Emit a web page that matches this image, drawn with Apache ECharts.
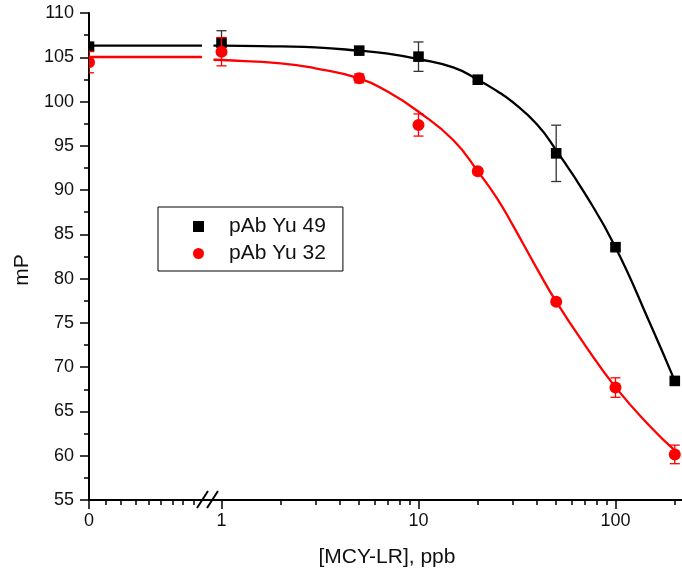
<!DOCTYPE html>
<html>
<head>
<meta charset="utf-8">
<script src="https://cdn.jsdelivr.net/npm/echarts@6/dist/echarts.min.js"></script>
<style>
html,body{margin:0;padding:0;background:#fff;}
#chart{width:682px;height:576px;}
</style>
</head>
<body>
<div id="chart"></div>
<script>
// ---- data ----
const xValues = [0, 1, 5, 10, 20, 50, 100, 200];
const yu49 = [106.2, 106.65, 105.75, 105.07, 102.47, 94.15, 83.55, 68.45];
const yu49Err = [0.3, 1.35, 0.3, 1.66, 0.2, 3.18, 0.3, 0.3];
const yu32 = [104.45, 105.63, 102.62, 97.35, 92.12, 77.4, 67.7, 60.15];
const yu32Err = [1.2, 1.6, 0.5, 1.25, 0.3, 0.3, 1.1, 1.05];

// fitted curves
const fitX = [0.91, 1, 2, 3, 5, 7, 10, 15, 20, 25, 30, 40, 50, 70, 100, 150, 200];
const fit49 = [106.31, 106.31, 106.22, 106.12, 105.74, 105.4, 104.8, 103.85, 102.47, 101.2, 99.95, 97.4, 94.5, 89.6, 83.55, 74.9, 68.45];
const fit32 = [104.72, 104.69, 104.32, 103.75, 102.62, 101.1, 98.85, 95.65, 92.12, 89.1, 86.1, 81.1, 77.4, 72.5, 67.75, 63.3, 60.6];
const fitLeftX = [0, 0.974];
const fit49Left = [106.31, 106.31];
const fit32Left = [105.03, 105.03];

// axis ticks
const yTickMin = 55, yTickMax = 110, yTickStep = 5;
const leftTickLabels = [0];
const leftMinorTicks = [0.148, 0.275, 0.404, 0.518, 0.62, 0.72, 0.812, 0.905];
const logTickLabels = [1, 10, 100];
const logMinorTicks = [2, 3, 4, 5, 6, 7, 8, 9, 20, 30, 40, 50, 60, 70, 80, 90, 200];

const names = ['pAb Yu 49', 'pAb Yu 32'];
const FONT = 'Liberation Sans, Arial, sans-serif';

function pairs(xs, ys) { return xs.map((x, i) => [x, ys[i]]); }
function pts(ys, es, left) {
  const out = [];
  xValues.forEach((x, i) => {
    if ((x === 0) === left) out.push([x, ys[i], es[i]]);
  });
  return out;
}

function makeRender(kind, color, barColor) {
  return function (params, api) {
    const x = api.value(0), y = api.value(1), e = api.value(2);
    const c = api.coord([x, y]);
    const t = api.coord([x, y + e]);
    const b = api.coord([x, y - e]);
    const cap = 5;
    const ls = { stroke: barColor, lineWidth: 1.3 };
    const children = [
      { type: 'line', shape: { x1: c[0], y1: t[1], x2: c[0], y2: b[1] }, style: ls },
      { type: 'line', shape: { x1: c[0] - cap, y1: t[1], x2: c[0] + cap, y2: t[1] }, style: ls },
      { type: 'line', shape: { x1: c[0] - cap, y1: b[1], x2: c[0] + cap, y2: b[1] }, style: ls }
    ];
    if (kind === 'square') {
      children.push({ type: 'rect', shape: { x: c[0] - 5.3, y: c[1] - 5.3, width: 10.6, height: 10.6 }, style: { fill: color } });
    } else {
      children.push({ type: 'circle', shape: { cx: c[0], cy: c[1], r: 6 }, style: { fill: color } });
    }
    const cs = params.coordSys;
    return {
      type: 'group',
      children: children,
      clipPath: { type: 'rect', shape: { x: cs.x, y: cs.y - 20, width: cs.width + 20, height: cs.height + 40 } }
    };
  };
}

const chart = echarts.init(document.getElementById('chart'), null, { renderer: 'canvas' });

const axisLineStyle = { color: '#000', width: 2 };
const labelStyle = { color: '#111', fontSize: 18, fontFamily: FONT };

const option = {
  animation: false,
  backgroundColor: '#fff',
  grid: [
    { left: 89, top: 13, width: 116, height: 487 },
    { left: 205, top: 13, right: 0, height: 487 }
  ],
  xAxis: [
    {
      type: 'value', gridIndex: 0, position: 'bottom', min: 0, max: 1,
      axisLine: { show: true, lineStyle: axisLineStyle },
      axisTick: { show: true, length: 9, customValues: leftTickLabels, lineStyle: { width: 1.5, color: '#000' } },
      axisLabel: { customValues: leftTickLabels, margin: 12, ...labelStyle, formatter: v => String(v) },
      splitLine: { show: false }
    },
    {
      type: 'value', gridIndex: 0, position: 'bottom', min: 0, max: 1,
      axisLine: { show: false },
      axisTick: { show: true, length: 5, customValues: leftMinorTicks, lineStyle: { width: 1.5, color: '#000' } },
      axisLabel: { show: false },
      splitLine: { show: false }
    },
    {
      type: 'log', gridIndex: 1, position: 'bottom', logBase: 10, min: 0.8245, max: 217.6,
      axisLine: { show: true, lineStyle: axisLineStyle },
      axisTick: { show: true, length: 9, customValues: logTickLabels, lineStyle: { width: 1.5, color: '#000' } },
      axisLabel: { customValues: logTickLabels, margin: 12, ...labelStyle, formatter: v => String(Math.round(v)) },
      splitLine: { show: false }
    },
    {
      type: 'log', gridIndex: 1, position: 'bottom', logBase: 10, min: 0.8245, max: 217.6,
      axisLine: { show: false },
      axisTick: { show: true, length: 5, customValues: logMinorTicks, lineStyle: { width: 1.5, color: '#000' } },
      axisLabel: { show: false },
      splitLine: { show: false }
    }
  ],
  yAxis: [
    {
      type: 'value', gridIndex: 0, min: yTickMin, max: yTickMax, interval: yTickStep,
      axisLine: { show: true, lineStyle: axisLineStyle },
      axisTick: { show: true, length: 9, lineStyle: { width: 1.5, color: '#000' } },
      minorTick: { show: true, splitNumber: 2, length: 5, lineStyle: { width: 1.5, color: '#000' } },
      axisLabel: { margin: 15, ...labelStyle },
      splitLine: { show: false }
    },
    {
      type: 'value', gridIndex: 1, min: yTickMin, max: yTickMax, interval: yTickStep, show: false
    }
  ],
  legend: {
    orient: 'vertical', left: 158, top: 207,
    padding: [6, 17, 4, 35],
    itemWidth: 11, itemHeight: 11, itemGap: 0,
    borderColor: '#000', borderWidth: 1,
    textStyle: { fontSize: 21, fontFamily: FONT, color: '#111', lineHeight: 27, padding: [0, 0, 0, 20] },
    data: [
      { name: names[0], icon: 'rect' },
      { name: names[1], icon: 'circle' }
    ],
    selectedMode: false
  },
  graphic: [
    { type: 'text', x: 387, y: 557, style: { text: '[MCY-LR], ppb', font: '21px ' + FONT, fill: '#111', align: 'center', verticalAlign: 'middle' } },
    { type: 'text', rotation: Math.PI / 2, x: 22, y: 270, style: { text: 'mP', font: '21px ' + FONT, fill: '#111', align: 'center', verticalAlign: 'middle' } },
    { type: 'line', shape: { x1: 197, y1: 508, x2: 208, y2: 491 }, style: { stroke: '#000', lineWidth: 2 }, z: 100 },
    { type: 'line', shape: { x1: 207, y1: 508, x2: 218, y2: 491 }, style: { stroke: '#000', lineWidth: 2 }, z: 100 }
  ],
  series: [
    { name: 'fit49a', type: 'line', xAxisIndex: 0, yAxisIndex: 0, data: pairs(fitLeftX, fit49Left), showSymbol: false, symbol: 'none', lineStyle: { color: '#000', width: 2.3 }, z: 2 },
    { name: 'fit49b', type: 'line', xAxisIndex: 2, yAxisIndex: 1, data: pairs(fitX, fit49), showSymbol: false, symbol: 'none', smooth: 0.5, lineStyle: { color: '#000', width: 2.3 }, z: 2 },
    { name: names[0], type: 'custom', xAxisIndex: 0, yAxisIndex: 0, data: pts(yu49, yu49Err, true), renderItem: makeRender('square', '#000', '#333'), itemStyle: { color: '#000' }, z: 3 },
    { name: names[0], type: 'custom', xAxisIndex: 2, yAxisIndex: 1, data: pts(yu49, yu49Err, false), renderItem: makeRender('square', '#000', '#333'), itemStyle: { color: '#000' }, z: 3 },
    { name: 'fit32a', type: 'line', xAxisIndex: 0, yAxisIndex: 0, data: pairs(fitLeftX, fit32Left), showSymbol: false, symbol: 'none', lineStyle: { color: '#ff0000', width: 2.3 }, z: 4 },
    { name: 'fit32b', type: 'line', xAxisIndex: 2, yAxisIndex: 1, data: pairs(fitX, fit32), showSymbol: false, symbol: 'none', smooth: 0.5, lineStyle: { color: '#ff0000', width: 2.3 }, z: 4 },
    { name: names[1], type: 'custom', xAxisIndex: 0, yAxisIndex: 0, data: pts(yu32, yu32Err, true), renderItem: makeRender('circle', '#ff0000', '#ff0000'), itemStyle: { color: '#ff0000' }, z: 5 },
    { name: names[1], type: 'custom', xAxisIndex: 2, yAxisIndex: 1, data: pts(yu32, yu32Err, false), renderItem: makeRender('circle', '#ff0000', '#ff0000'), itemStyle: { color: '#ff0000' }, z: 5 }
  ]
};
chart.setOption(option);
</script>
</body>
</html>
